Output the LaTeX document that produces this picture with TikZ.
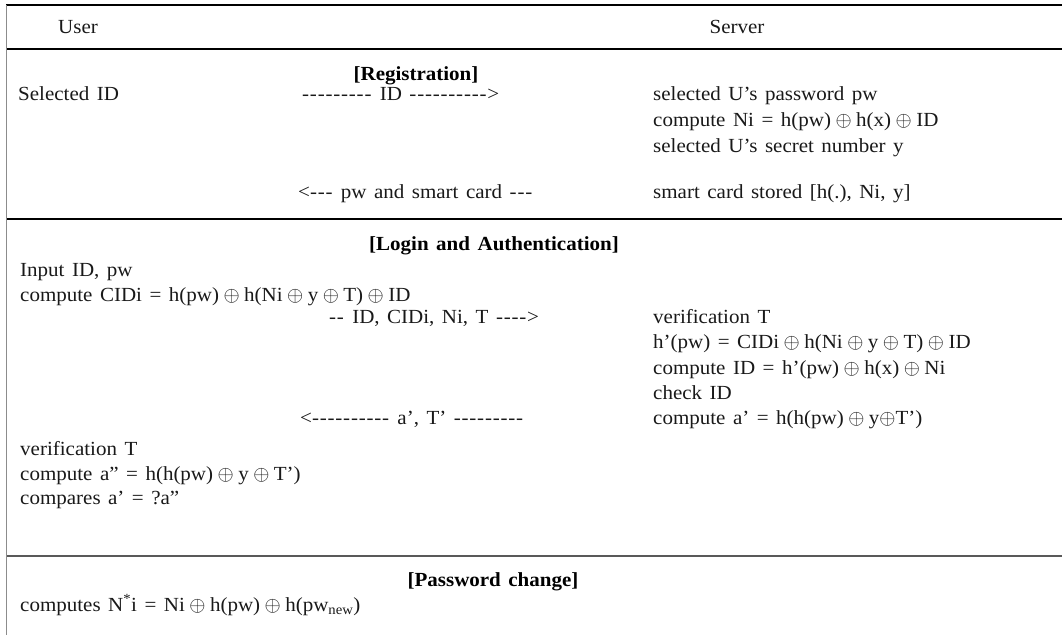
\documentclass[tikz,border=0pt]{standalone}
\usepackage{fontspec}
\setmainfont{Liberation Serif}[FakeStretch=1.05, Ligatures=TeXOff]
% xor sign with the wide gaps used in the formulas
\newcommand\xo{\hspace{4.5pt}$\oplus$\hspace{4.5pt}}
% a run of #1 spaced hyphens for the message arrows
\newcommand\hy[1]{\foreach \k in {1,...,#1}{-\kern0.8pt}}
\newcommand\bodyfont{\fontsize{20}{24}\selectfont\spaceskip=7.5pt\relax}
\newcommand\headfont{\fontsize{20}{24}\selectfont\bfseries\spaceskip=7.5pt\relax}
\tikzset{
  txt/.style={anchor=base west, inner sep=0pt, font=\bodyfont, text=black!90},
  head/.style={anchor=base, inner sep=0pt, font=\bodyfont, text=black!90},
  ttl/.style={anchor=base, inner sep=0pt, font=\headfont},
  rule/.style={line width=1.3pt, black},
  softrule/.style={line width=1.3pt, black!65},
  border/.style={line width=1.5pt, black!45}
}
\begin{document}
\begin{tikzpicture}[x=1pt, y=-1pt]
\useasboundingbox (0,0) rectangle (1062,635);
% frame
\draw[rule] (6,5) -- (1062,5);
\draw[rule] (6,49) -- (1062,49);
\draw[rule] (6,219) -- (1062,219);
\draw[softrule] (6,556) -- (1062,556);
\draw[border] (6.5,5) -- (6.5,635);
% header
\node[txt] (user) at (58,33) {User};
\node[head] (server) at (737,33) {Server};
% registration
\node[ttl] (regtitle) at (416,80) {[Registration]};
\node[txt] (selid) at (18,100) {Selected ID};
\node[txt] (msgid) at (302,100) {\hy{9} ID \hy{10}>};
\node[txt] (srv1) at (653,100) {selected U’s password pw};
\node[txt] (srv2) at (653,126) {compute Ni = h(pw)\xo h(x)\xo ID};
\node[txt] (srv3) at (653,152) {selected U’s secret number y};
\node[txt] (srv4) at (653,198) {smart card stored [h(.), Ni, y]};
\node[txt] (msgcard) at (298,198) {<\hy{3} pw and smart card \hy{3}};
% login and authentication
\node[ttl] (logtitle) at (494,250) {[Login and Authentication]};
\node[txt] (usr1) at (20,276) {Input ID, pw};
\node[txt] (usr2) at (20,301.5) {compute CIDi = h(pw)\xo h(Ni\xo y\xo T)\xo ID};
\node[txt] (msglogin) at (329,323.5) {\hy{2} ID, CIDi, Ni, T \hy{4}>};
\node[txt] (srv5) at (653,323.5) {verification T};
\node[txt] (srv6) at (653,348.5) {h’(pw) = CIDi\xo h(Ni\xo y\xo T)\xo ID};
\node[txt] (srv7) at (653,374) {compute ID = h’(pw)\xo h(x)\xo Ni};
\node[txt] (srv8) at (653,399.5) {check ID};
\node[txt] (srv9) at (653,424.5) {compute a’ = h(h(pw)\xo y$\oplus$T’)};
\node[txt] (msgresp) at (300,424.5) {<\hy{10} a’, T’ \hy{9}};
\node[txt] (usr3) at (20,455) {verification T};
\node[txt] (usr4) at (20,480) {compute a” = h(h(pw)\xo y\xo T’)};
\node[txt] (usr5) at (20,504.5) {compares a’ = ?a”};
% password change
\node[ttl] (pwtitle) at (493,586) {[Password change]};
\node[txt] (usr6) at (20,611) {computes N\textsuperscript{*}i = Ni\xo h(pw)\xo h(pw\textsubscript{new})};
\end{tikzpicture}
\end{document}
